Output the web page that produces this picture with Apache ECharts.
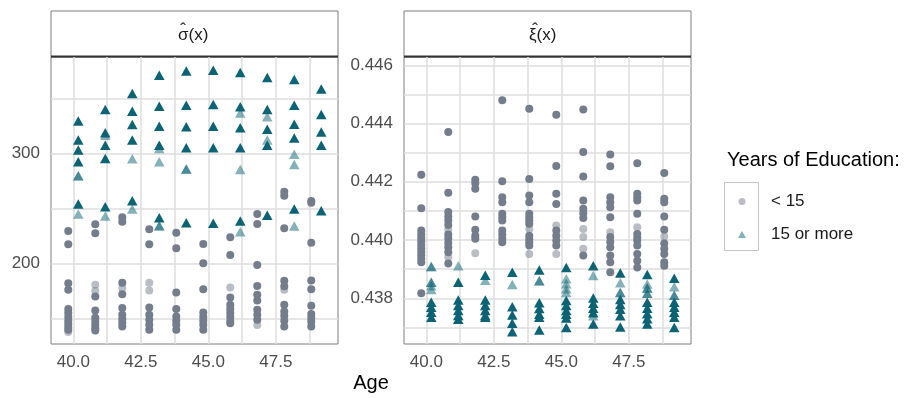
<!DOCTYPE html>
<html>
<head>
<meta charset="utf-8">
<script src="https://cdn.jsdelivr.net/npm/echarts@6/dist/echarts.min.js"></script>
<style>
  html, body { margin: 0; padding: 0; background: #fff; }
  #chart { width: 919px; height: 398px; }
</style>
</head>
<body>
<div id="chart"></div>
<script>
// ages on the x axis, one group per age
const ages = [40, 41, 42, 43, 44, 45, 46, 47, 48, 49];
const xLabels = [40, 42.5, 45, 47.5];
const xGrid = [40, 41.25, 42.5, 43.75, 45, 46.25, 47.5, 48.75];
const sigmaLabels = [200, 300];
const sigmaGrid = [150, 200, 250, 300, 350];
const xiLabels = [0.438, 0.440, 0.442, 0.444, 0.446];
const xiGrid = [0.437, 0.438, 0.439, 0.440, 0.441, 0.442, 0.443, 0.444, 0.445, 0.446];

// sigma(x), < 15 years: many overlapping points (dark) / few points (faint)
const sigmaLowDark = [
  [229.5, 217.5, 182, 176, 158.4, 155, 151.5, 148, 145, 142, 139.5],
  [235.6, 227.5, 169.8, 157.1, 150.5, 147, 144, 141, 139],
  [242, 238, 182.5, 172, 159.3, 153.2, 149.5, 145.9, 142.5],
  [231.1, 217.5, 159.8, 153.2, 148.6, 144.1, 139.5],
  [228, 213.8, 173.5, 158.4, 151.6, 147.7, 144.1, 139.5],
  [217.7, 200.2, 176.5, 155.3, 151.4, 147.7, 144.1, 139.5],
  [223.8, 207.7, 168.9, 162.3, 158.4, 155, 151.4, 147.5, 145.6],
  [245, 235.9, 198.6, 179.5, 171.4, 166.2, 157.7, 153.2, 148.6],
  [265.3, 261.6, 232, 184.1, 179.1, 162.3, 156.2, 152.3, 147.7, 142.5],
  [256.8, 255.3, 218.9, 184.4, 176.5, 161.4, 153.9, 150.5, 146.8, 142.5]
];
const sigmaLowFaint = [
  [137.5], [180.5, 175], [177.5], [182.5, 175.3], [], [], [178], [143.8], [176], []
];
// sigma(x), 15 or more years
const sigmaHighDark = [
  [329.8, 312.3, 303.2, 292.5, 254.1],
  [340.2, 318.9, 307.7, 295.6, 251.6],
  [354.7, 338.6, 326.5, 312.3, 257.1],
  [371.4, 343.2, 325, 307.7, 241.6],
  [375.3, 344.1, 324.4, 305.3, 237.1],
  [375.9, 344.7, 325, 305.3, 236.5],
  [373.8, 342.6, 323.5, 305.3, 238.6],
  [369.3, 340.2, 322.3, 307.7, 243.9],
  [367.5, 344.1, 326.8, 314.2, 249.5],
  [358.9, 335.6, 319.8, 307.7, 248]
];
const sigmaHighFaint = [
  [279.8, 279.8, 245], [316.8, 243.2], [295.3, 249.5], [304.7, 292.5, 234.4, 234.4],
  [285.9, 285.9], [], [337.1, 285.6, 228.9], [333.5, 312.5], [299.5, 290.2, 234.1], []
];

// xi(x), < 15 years
const xiLowDark = [
  [0.44224, 0.44109, 0.44033, 0.44020, 0.44008, 0.43996, 0.43984, 0.43972, 0.43960, 0.43948, 0.43936, 0.43924, 0.43817],
  [0.44371, 0.44162, 0.44096, 0.44081, 0.44067, 0.44052, 0.44019, 0.44005, 0.43990, 0.43975, 0.43958, 0.43919],
  [0.44207, 0.44195, 0.44176, 0.44081, 0.44035, 0.44015, 0.44004],
  [0.44480, 0.44202, 0.44147, 0.44130, 0.44090, 0.44078, 0.44067, 0.44033, 0.44019, 0.44005, 0.43992],
  [0.44451, 0.44210, 0.44153, 0.44130, 0.44090, 0.44078, 0.44067, 0.44056, 0.44015, 0.44003, 0.43992, 0.43981],
  [0.44430, 0.44254, 0.44159, 0.44124, 0.44033, 0.44015, 0.43998, 0.43981],
  [0.44448, 0.44302, 0.44218, 0.44136, 0.44107, 0.44092, 0.44076, 0.43947],
  [0.44294, 0.44253, 0.44147, 0.44130, 0.44113, 0.44078, 0.44010, 0.43993, 0.43975, 0.43947, 0.43924, 0.43889],
  [0.44264, 0.44159, 0.44147, 0.44136, 0.44090, 0.44021, 0.44008, 0.43998, 0.43981, 0.43952, 0.43929, 0.43906],
  [0.44230, 0.44142, 0.44130, 0.44081, 0.44035, 0.43988, 0.43970, 0.43952, 0.43924, 0.43912]
];
const xiLowFaint = [
  [], [0.44035, 0.43941], [0.43955], [], [0.44038, 0.43952], [0.44050, 0.43952],
  [0.44038, 0.44010, 0.43970], [0.44027], [0.44044], [0.44012]
];
// xi(x), 15 or more years
const xiHighDark = [
  [0.43786, 0.43769, 0.43752, 0.43735],
  [0.43855, 0.43794, 0.43775, 0.43758, 0.43741, 0.43728],
  [0.43879, 0.43794, 0.43775, 0.43758, 0.43741, 0.43735],
  [0.43889, 0.43771, 0.43743, 0.43714, 0.43685],
  [0.43897, 0.43785, 0.43765, 0.43745, 0.43735, 0.43691],
  [0.43906, 0.43792, 0.43775, 0.43758, 0.43745, 0.43732, 0.43700],
  [0.43912, 0.43801, 0.43783, 0.43766, 0.43750, 0.43712],
  [0.43887, 0.43796, 0.43779, 0.43762, 0.43740, 0.43701],
  [0.43882, 0.43786, 0.43766, 0.43747, 0.43730, 0.43712],
  [0.43869, 0.43786, 0.43769, 0.43752, 0.43735, 0.43700]
];
const xiHighFaint = [
  [0.43909, 0.43909, 0.43855, 0.43855, 0.43843, 0.43830], [0.43912], [0.43862], [0.43847],
  [0.43860, 0.43860], [0.43867, 0.43850, 0.43833, 0.43820], [0.43878, 0.43740],
  [0.43853, 0.43820, 0.43820], [0.43849, 0.43835, 0.43835, 0.43817, 0.43817], [0.43840, 0.43810, 0.43810]
];

const LOW = '< 15', HIGH = '15 or more';
const greyCol = '#737d8c', tealCol = '#0c6373';
const font = 'Liberation Sans, Arial, sans-serif';

function points(perAge, shift) {
  const out = [];
  perAge.forEach((vals, i) => vals.forEach(v => out.push([ages[i] + shift, v])));
  return out;
}

function pts(name, idx, perAge, faint) {
  const low = name === LOW;
  return {
    type: 'scatter', name: name, xAxisIndex: idx, yAxisIndex: idx,
    symbol: low ? 'circle' : 'triangle',
    symbolSize: low ? 8 : [10.5, 9.5],
    data: points(perAge, low ? -0.19 : 0.18),
    itemStyle: {color: low ? greyCol : tealCol, opacity: faint ? 0.5 : 1},
    silent: true
  };
}

function xAx(idx) {
  return {
    type: 'value', gridIndex: idx, min: 39.17, max: 49.8,
    axisLine: {show: false},
    axisTick: {show: false, customValues: xGrid},
    axisLabel: {customValues: xLabels, formatter: v => v.toFixed(1), color: '#4d4d4d', fontSize: 17, fontFamily: font, margin: 10},
    splitLine: {show: true, lineStyle: {color: '#dedede', width: 1.5}}
  };
}

function yAx(idx, min, max, grid, labels, digits) {
  return {
    type: 'value', gridIndex: idx, min: min, max: max,
    axisLine: {show: false},
    axisTick: {show: false, customValues: grid},
    axisLabel: {customValues: labels, formatter: v => v.toFixed(digits), color: '#4d4d4d', fontSize: 17, fontFamily: font, margin: 11},
    splitLine: {show: true, lineStyle: {color: '#dedede', width: 1.5}}
  };
}

// facet strip: box, dark bottom rule, letter + hat drawn separately
function strip(x, letter, textLeft, hatX) {
  return [
    {type: 'rect', shape: {x: x, y: 11, width: 287, height: 46}, style: {fill: '#fff', stroke: '#7f7f7f', lineWidth: 1}},
    {type: 'line', shape: {x1: x, y1: 56.5, x2: x + 287, y2: 56.5}, style: {stroke: '#333', lineWidth: 2}},
    {type: 'text', x: textLeft, y: 35, style: {text: letter + '(x)', fill: '#1a1a1a', font: '17px ' + font, textAlign: 'left', textVerticalAlign: 'middle'}},
    {type: 'text', x: hatX, y: 30, style: {text: '\u02C6', fill: '#1a1a1a', font: '17px ' + font, textAlign: 'center', textVerticalAlign: 'middle'}}
  ];
}

const myChart = echarts.init(document.getElementById('chart'), null, {renderer: 'canvas'});
myChart.setOption({
  animation: false,
  backgroundColor: '#fff',
  grid: [
    {left: 51, top: 57, width: 287, height: 287, show: true, borderColor: '#7f7f7f', borderWidth: 1, backgroundColor: 'transparent'},
    {left: 404, top: 57, width: 287, height: 287, show: true, borderColor: '#7f7f7f', borderWidth: 1, backgroundColor: 'transparent'}
  ],
  xAxis: [xAx(0), xAx(1)],
  yAxis: [
    yAx(0, 126.6, 388, sigmaGrid, sigmaLabels, 0),
    yAx(1, 0.43643, 0.446285, xiGrid, xiLabels, 3)
  ],
  legend: {
    orient: 'vertical', left: 733, top: 188, itemGap: 16,
    itemWidth: 8, itemHeight: 7,
    textStyle: {color: '#1a1a1a', fontSize: 17, fontFamily: font, padding: [0, 0, 0, 20]},
    data: [
      {name: LOW, icon: 'circle', itemStyle: {color: '#b9bec6', opacity: 1}},
      {name: HIGH, icon: 'triangle', itemStyle: {color: '#85b1bb', opacity: 1}}
    ],
    selectedMode: false
  },
  graphic: [
    ...strip(51, '\u03C3', 178, 183),
    ...strip(404, '\u03BE', 529, 535),
    {type: 'text', x: 371, y: 383, style: {text: 'Age', fill: '#000', font: '20px ' + font, textAlign: 'center', textVerticalAlign: 'middle'}},
    {type: 'text', x: 727, y: 160, style: {text: 'Years of Education:', fill: '#000', font: '20px ' + font, textAlign: 'left', textVerticalAlign: 'middle'}},
    {type: 'rect', shape: {x: 724.5, y: 182.5, width: 34, height: 68}, style: {fill: 'none', stroke: '#c4c4c4', lineWidth: 1}}
  ],
  series: [
    pts(LOW, 0, sigmaLowFaint, true), pts(LOW, 0, sigmaLowDark, false),
    pts(HIGH, 0, sigmaHighFaint, true), pts(HIGH, 0, sigmaHighDark, false),
    pts(LOW, 1, xiLowFaint, true), pts(LOW, 1, xiLowDark, false),
    pts(HIGH, 1, xiHighFaint, true), pts(HIGH, 1, xiHighDark, false)
  ]
});
</script>
</body>
</html>
